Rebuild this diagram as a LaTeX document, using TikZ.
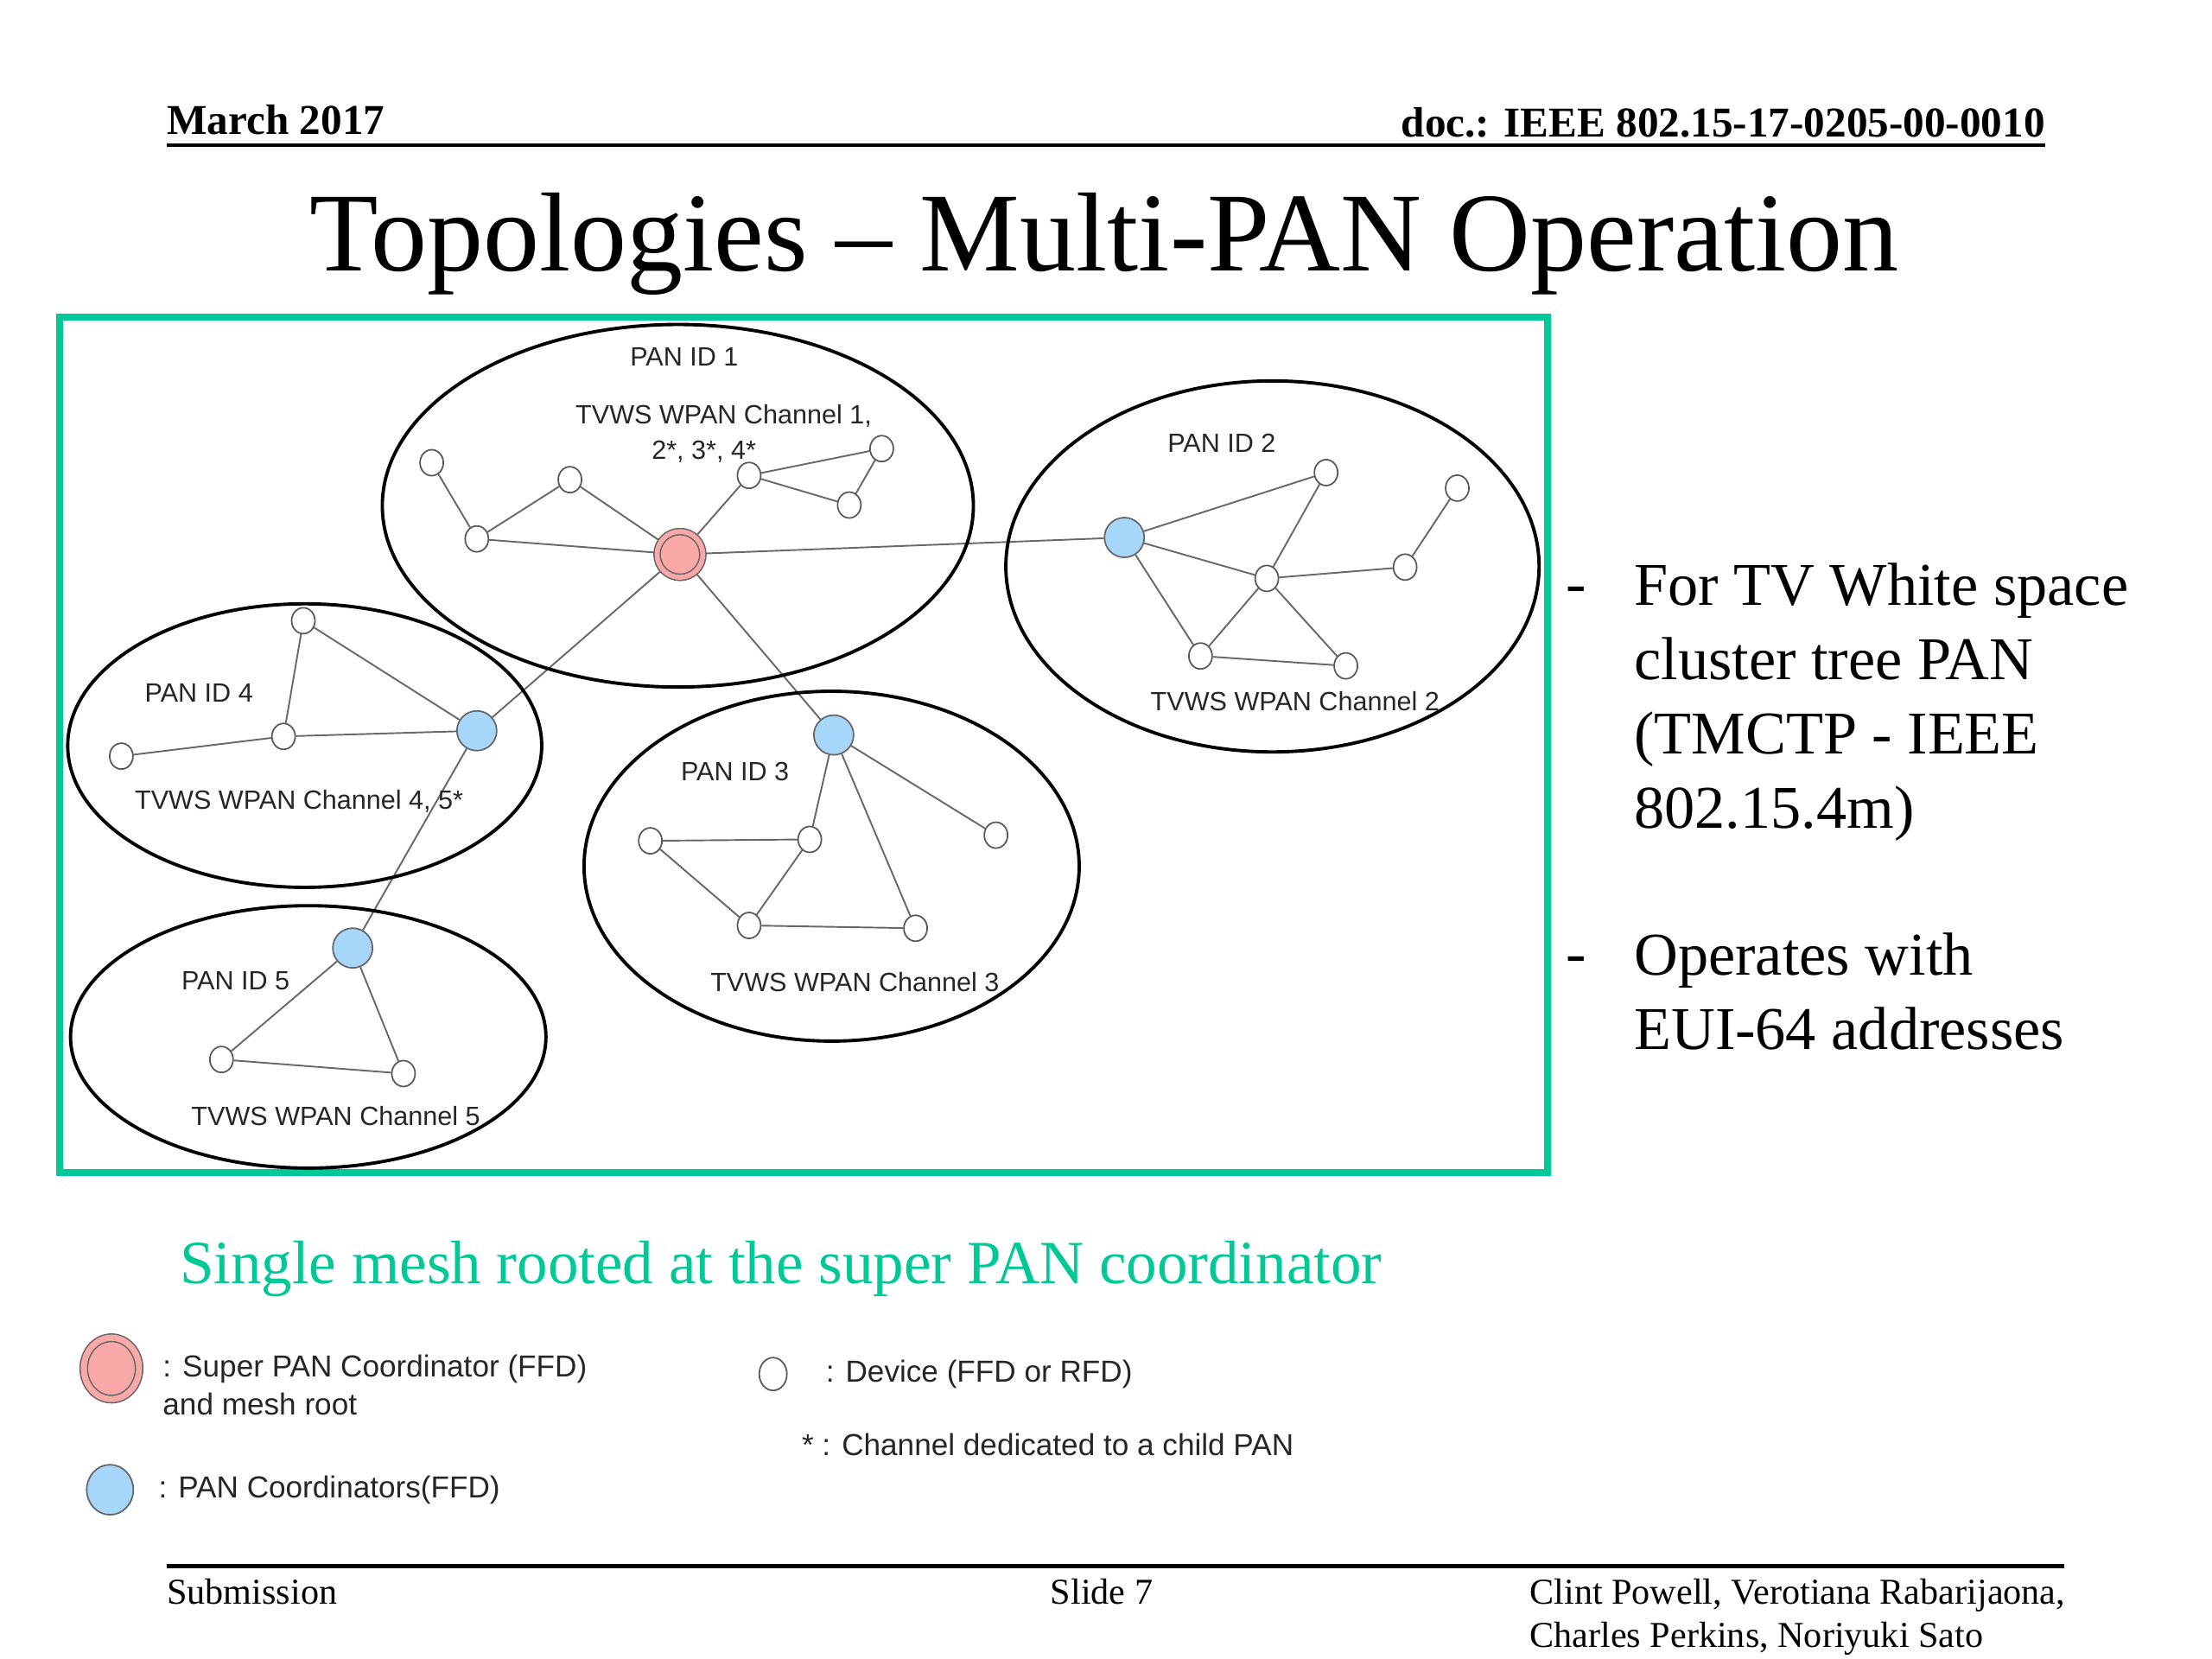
\documentclass[tikz,border=0pt]{standalone}
\usepackage{fontspec}
\setmainfont{Liberation Serif}
\newfontfamily\arialfont{Liberation Sans}
\usepackage{tikz}
\usetikzlibrary{shapes.geometric, backgrounds}
\definecolor{framegreen}{RGB}{0,200,150}
\definecolor{superpink}{RGB}{250,168,168}
\definecolor{coordblue}{RGB}{166,214,250}
\definecolor{linkgray}{RGB}{105,105,105}

\begin{document}
\begin{tikzpicture}[
    x=0.016327cm, y=-0.016327cm,
    every node/.style={inner sep=0pt},
    lbl/.style={font=\arialfont\fontsize{8.7}{11.6}\selectfont, text=black!85},
    leg/.style={font=\arialfont\fontsize{10}{12.5}\selectfont, align=left, text=black!85},
    dev/.style={draw=black!65, fill=white, ellipse, line width=0.5pt, minimum width=0.27cm, minimum height=0.30cm},
    pancoord/.style={draw=black!60, fill=coordblue, circle, line width=0.5pt, minimum size=0.46cm},
    supc/.style={draw=black!60, fill=superpink, circle, line width=0.45pt, double=superpink, double distance=1.6pt, minimum size=0.53cm},
    meshlink/.style={draw=linkgray, line width=0.55pt},
    pan/.style={draw=black, line width=1.1pt},
    bullet/.style={font=\fontsize{20}{24.4}\selectfont, align=left, anchor=north west}
  ]

  \useasboundingbox (0,0) rectangle (1568,1176);

  % header and title
  \node[font=\bfseries\fontsize{14}{16}\selectfont, anchor=base west] (date) at (118,95) {March 2017};
  \node[font=\bfseries\fontsize{14}{16}\selectfont, anchor=base east] (docid) at (1450,97) {doc.: IEEE 802.15-17-0205-00-0010};
  \draw[line width=1.3pt] (118,103) -- (1450,103);
  \node[font=\fontsize{37}{40}\selectfont, anchor=base] (title) at (783,192) {Topologies – Multi-PAN Operation};

  % frame and PAN clusters
  \draw[draw=framegreen, line width=2.3pt] (42,225) rectangle (1097,831);
  \draw[pan] (480.5,358.5) ellipse [x radius=209.5, y radius=128.5];
  \draw[pan] (902,401.5) ellipse [x radius=189, y radius=131.5];
  \draw[pan] (216,528.5) ellipse [x radius=168, y radius=100.5];
  \draw[pan] (589.5,614) ellipse [x radius=175.5, y radius=124];
  \draw[pan] (218.5,735) ellipse [x radius=168.5, y radius=93];

  % PAN ID 1
  \node[supc] (spc) at (482,393) {};
  \node[dev] (d1a) at (306,328) {};
  \node[dev] (d1b) at (338,382) {};
  \node[dev] (d1c) at (404,340) {};
  \node[dev] (d1d) at (531,337) {};
  \node[dev] (d1e) at (625,318) {};
  \node[dev] (d1f) at (602,358) {};
  \node[lbl] (pan1) at (485,253) {PAN ID 1};
  \node[lbl] (ch1) at (513,295) {TVWS WPAN Channel 1,};
  \node[lbl] (ch1b) at (499,320) {2*, 3*, 4*};

  % PAN ID 2
  \node[pancoord] (pc2) at (797,381) {};
  \node[dev] (d2a) at (940,335) {};
  \node[dev] (d2b) at (898,410) {};
  \node[dev] (d2c) at (996,402) {};
  \node[dev] (d2d) at (1033,346) {};
  \node[dev] (d2e) at (851,465) {};
  \node[dev] (d2f) at (954,472) {};
  \node[lbl] (pan2) at (866,314) {PAN ID 2};
  \node[lbl] (ch2) at (918,497) {TVWS WPAN Channel 2};

  % PAN ID 4
  \node[pancoord] (pc4) at (338,518) {};
  \node[dev] (d4a) at (215,440) {};
  \node[dev] (d4b) at (201,522) {};
  \node[dev] (d4c) at (86,536) {};
  \node[lbl] (pan4) at (141,491) {PAN ID 4};
  \node[lbl] (ch4) at (212,568) {TVWS WPAN Channel 4, 5*};

  % PAN ID 3
  \node[pancoord] (pc3) at (591,521) {};
  \node[dev] (d3a) at (706,592) {};
  \node[dev] (d3b) at (574,595) {};
  \node[dev] (d3c) at (461,596) {};
  \node[dev] (d3d) at (531,656) {};
  \node[dev] (d3e) at (649,658) {};
  \node[lbl] (pan3) at (521,547) {PAN ID 3};
  \node[lbl] (ch3) at (606,696) {TVWS WPAN Channel 3};

  % PAN ID 5
  \node[pancoord] (pc5) at (250,672) {};
  \node[dev] (d5a) at (157,751) {};
  \node[dev] (d5b) at (286,761) {};
  \node[lbl] (pan5) at (167,695) {PAN ID 5};
  \node[lbl] (ch5) at (238,791) {TVWS WPAN Channel 5};

  \begin{scope}[on background layer]
    \fill[white] (0,0) rectangle (1568,1176);
    \draw[meshlink] (d1a) -- (d1b) -- (d1c) -- (spc);
    \draw[meshlink] (d1b) -- (spc);
    \draw[meshlink] (spc) -- (d1d) -- (d1e) -- (d1f) -- (d1d);
    \draw[meshlink] (spc) -- (pc2);
    \draw[meshlink] (spc) -- (pc3);
    \draw[meshlink] (spc) -- (pc4) -- (pc5);
    \draw[meshlink] (pc2) -- (d2a) -- (d2b) -- (pc2) -- (d2e) -- (d2b) -- (d2c) -- (d2d);
    \draw[meshlink] (d2b) -- (d2f) -- (d2e);
    \draw[meshlink] (pc4) -- (d4a) -- (d4b) -- (pc4);
    \draw[meshlink] (d4b) -- (d4c);
    \draw[meshlink] (pc5) -- (d5a) -- (d5b) -- (pc5);
    \draw[meshlink] (pc3) -- (d3a);
    \draw[meshlink] (pc3) -- (d3b) -- (d3c) -- (d3d) -- (d3b);
    \draw[meshlink] (pc3) -- (d3e) -- (d3d);
  \end{scope}

  % bullets on the right
  \node[font=\fontsize{20}{24}\selectfont, anchor=base west] (dash1) at (1110,428) {-};
  \node[bullet] (bul1) at (1158,399) {For TV White space\\cluster tree PAN\\(TMCTP - IEEE\\802.15.4m)};
  \node[font=\fontsize{20}{24}\selectfont, anchor=base west] (dash2) at (1110,690) {-};
  \node[bullet] (bul2) at (1158,661) {Operates with\\EUI-64 addresses};

  \node[font=\fontsize{20.2}{24}\selectfont, text=framegreen, anchor=base west] (caption) at (127,910) {Single mesh rooted at the super PAN coordinator};

  % legend
  \node[supc, ellipse, minimum width=0.64cm, minimum height=0.71cm, double distance=2pt] (legsup) at (79,970) {};
  \node[leg, anchor=north west] (legsupt) at (115,960) {: Super PAN Coordinator (FFD)\\and mesh root};
  \node[dev, minimum width=0.32cm, minimum height=0.38cm] (legdev) at (548,974) {};
  \node[leg, anchor=west] (legdevt) at (585,974) {: Device (FFD or RFD)};
  \node[leg, anchor=west] (legstar) at (568,1024) {* : Channel dedicated to a child PAN};
  \node[pancoord, ellipse, minimum width=0.54cm, minimum height=0.58cm] (legpc) at (78,1056) {};
  \node[leg, anchor=west] (legpct) at (112,1056) {: PAN Coordinators(FFD)};

  % footer
  \draw[line width=1.3pt] (118,1110) -- (1463,1110);
  \node[font=\fontsize{12}{14.4}\selectfont, anchor=base west] (subm) at (118,1137) {Submission};
  \node[font=\fontsize{12}{14.4}\selectfont, anchor=base] (slide) at (781,1137) {Slide 7};
  \node[font=\fontsize{12}{14.4}\selectfont, anchor=base west] (auth1) at (1084,1137) {Clint Powell, Verotiana Rabarijaona,};
  \node[font=\fontsize{12}{14.4}\selectfont, anchor=base west] (auth2) at (1084,1168) {Charles Perkins, Noriyuki Sato};
\end{tikzpicture}
\end{document}
